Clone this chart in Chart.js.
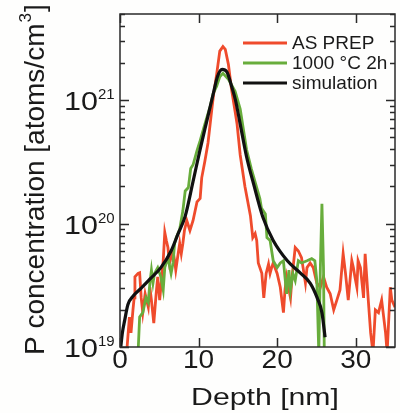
<!DOCTYPE html>
<html>
<head>
<meta charset="utf-8">
<script src="https://cdn.jsdelivr.net/npm/chart.js@4"></script>
<style>
  html, body { margin: 0; padding: 0; background: #fefefd; }
  #wrap { width: 400px; height: 413px; }
</style>
</head>
<body>
<div id="wrap"><canvas id="chart"></canvas></div>
<script>
// depth in nm, concentration in units of 1e19 atoms/cm3
const UNIT = 1e19;

const asPrepDepth = [0.85, 1.0, 1.2, 1.4, 1.65, 1.8, 1.9, 2.3, 2.5, 2.7, 2.9, 3.2, 3.6, 3.8, 4.0, 4.3, 4.6, 4.8, 5.05, 5.2,
  5.5, 5.7, 5.9, 6.1, 6.3, 6.5, 6.75, 6.95, 7.1, 7.4, 7.6, 7.8, 8.0, 8.2, 8.5, 8.9, 9.3, 9.8, 10.2, 10.4,
  10.8, 11.2, 11.7, 11.9, 12.3, 12.7, 13.1, 13.4, 13.8, 14.2, 14.65, 14.9, 15.3, 15.9, 16.6, 16.9, 17.2, 17.4, 17.6, 18.05,
  18.3, 18.6, 18.9, 19.1, 19.3, 19.5, 20.0, 20.4, 20.8, 21.0, 21.2, 21.7, 21.9, 22.3, 22.7, 23.1, 23.3, 23.6, 23.8, 24.2,
  24.6, 25.05, 25.5, 25.9, 26.3, 26.75, 27.2, 27.6, 28.0, 28.4, 28.7, 29.05, 29.5, 29.7, 29.9, 30.15, 30.3, 30.6, 31.0, 31.2,
  31.4, 31.6, 31.9, 32.2, 32.5, 32.9, 33.3, 33.8, 34.0, 34.4, 34.6, 35.0];
const asPrepConc = [0.9, 1.2, 1.75, 1.3, 2.0, 2.5, 3.7, 3.95, 4.0, 2.5, 1.9, 2.7, 2.1, 3.05, 2.4, 1.56, 2.7, 3.7, 2.4, 3.05,
  5.0, 8.5, 7.3, 6.4, 4.8, 5.3, 6.0, 5.0, 4.2, 5.7, 6.9, 5.7, 6.9, 8.8, 10.6, 8.8, 10.6, 15, 16, 23.5,
  32, 45, 86, 110, 162, 250, 272, 258, 195, 122, 81, 64, 36, 20, 11.6, 7.7, 8.3, 7.3, 4.8, 3.95,
  2.5, 3.95, 4.7, 3.95, 4.4, 4.8, 3.95, 3.05, 1.9, 2.9, 3.7, 2.5, 3.7, 6.4, 6.0, 5.3, 4.4, 3.3, 4.4, 4.8,
  4.4, 3.3, 3.05, 3.7, 3.05, 2.7, 2.0, 2.4, 2.9, 5.7, 3.95, 2.4, 5.0, 4.4, 3.7, 3.05, 5.0, 4.4, 2.5, 5.7,
  3.7, 2.4, 1.3, 0.9, 2.0, 1.9, 2.4, 1.3, 0.9, 3.05, 2.4, 2.1];

const annealDepth = [2.3, 2.5, 2.9, 3.3, 3.6, 3.8, 4.0, 4.2, 4.4, 4.8, 5.2, 5.5, 5.7, 6.1, 6.5, 6.75, 6.95, 7.15, 7.6, 8.0,
  8.3, 8.7, 9.0, 9.3, 9.8, 10.2, 10.8, 11.5, 11.85, 12.3, 12.7, 13.1, 13.8, 14.65, 15.3, 16.1, 16.7, 17.4, 17.8, 18.0,
  18.5, 18.7, 19.1, 19.5, 20.0, 20.4, 20.8, 21.2, 21.5, 21.7, 22.0, 22.3, 22.7, 23.1, 23.8, 24.4, 24.8, 25.05, 25.3, 25.5,
  25.7, 25.9, 26.0];
const annealConc = [0.9, 1.75, 1.9, 2.5, 2.3, 3.3, 4.2, 3.3, 3.95, 4.4, 3.7, 2.9, 4.4, 5.3, 3.95, 4.8, 6.9, 7.7, 9.0, 12.7,
  18.4, 19.6, 28, 30, 39, 47, 64, 90, 113, 130, 155, 165, 148, 118, 85, 40, 28, 19.6, 16, 13.4,
  12, 7.7, 7.3, 5.0, 4.4, 4.8, 5.0, 2.7, 4.2, 2.9, 3.95, 3.45, 5.0, 4.8, 5.0, 5.2, 5.0, 3.45, 0.9, 4.4,
  14.5, 4.4, 0.9];

const simDepth = [0.1, 0.3, 0.6, 1.0, 1.7, 2.7, 3.9, 5.2, 6.5, 7.4, 8.3, 9.3, 10.2, 11.1, 11.9, 12.4, 13.0, 13.6, 14.2, 14.7,
  15.3, 16.1, 17.0, 18.2, 19.5, 21.3, 22.9, 24.2, 25.1, 25.7, 26.1];
const simConc = [1.0, 1.3, 1.65, 2.2, 2.6, 3.0, 3.6, 4.4, 6.0, 8.3, 11.5, 22, 40, 70, 115, 155, 178, 170, 130, 100,
  64, 35, 21, 11.2, 7.3, 5.0, 4.0, 3.3, 2.5, 1.9, 1.2];

const seriesNames = ['AS PREP', '1000 °C 2h', 'simulation'];
const seriesColors = ['#ef4b2c', '#68ad3c', '#111111'];

const xTicks = [0, 10, 20, 30];
const yMajor = [1e19, 1e20, 1e21];
const yExp = ['19', '20', '21'];

function toPoints(xs, ys) {
  return xs.map((x, i) => ({ x: x, y: ys[i] * UNIT }));
}

const FONT = '"Liberation Sans", Arial, sans-serif';

function stretchText(ctx, text, x, y, size, align, sx) {
  ctx.save();
  ctx.font = size + 'px ' + FONT;
  const w = ctx.measureText(text).width * sx;
  let left = x;
  if (align === 'right') left = x - w;
  if (align === 'center') left = x - w / 2;
  ctx.translate(left, y);
  ctx.scale(sx, 1);
  ctx.textAlign = 'left';
  ctx.textBaseline = 'alphabetic';
  ctx.fillText(text, 0, 0);
  ctx.restore();
  return w;
}

const framePlugin = {
  id: 'frame',
  afterDraw(chart) {
    const ctx = chart.ctx;
    const a = chart.chartArea;
    const xs = chart.scales.x;
    const ys = chart.scales.y;
    ctx.save();
    ctx.strokeStyle = '#2a2a2a';
    ctx.fillStyle = '#1a1a1a';
    ctx.lineWidth = 1.5;
    ctx.strokeRect(a.left, a.top, a.right - a.left, a.bottom - a.top);

    // inward ticks, y axis (log, with minors)
    ctx.beginPath();
    for (let d = 19; d <= 21; d++) {
      for (let m = 1; m <= 9; m++) {
        const v = m * Math.pow(10, d);
        if (v > ys.max) break;
        const py = Math.round(ys.getPixelForValue(v)) + 0.5;
        const len = m === 1 ? 9 : 5;
        ctx.moveTo(a.left, py); ctx.lineTo(a.left + len, py);
        ctx.moveTo(a.right, py); ctx.lineTo(a.right - len, py);
      }
    }
    // x axis ticks
    xTicks.forEach((t) => {
      const px = Math.round(xs.getPixelForValue(t)) + 0.5;
      ctx.moveTo(px, a.bottom); ctx.lineTo(px, a.bottom - 9);
      ctx.moveTo(px, a.top); ctx.lineTo(px, a.top + 9);
    });
    ctx.stroke();

    // y tick labels 10^n
    yMajor.forEach((v, i) => {
      const py = ys.getPixelForValue(v);
      stretchText(ctx, '10', 98, py + 10, 25, 'right', 1.22);
      stretchText(ctx, yExp[i], 98, py - 1, 15, 'left', 1.0);
    });
    // x tick labels
    xTicks.forEach((t) => {
      const px = xs.getPixelForValue(t);
      stretchText(ctx, String(t), px, 368, 25, 'center', 1.12);
    });
    // x title
    stretchText(ctx, 'Depth [nm]', 265, 405, 24, 'center', 1.26);

    // y title, rotated, with superscript
    ctx.save();
    ctx.translate(44, 355);
    ctx.rotate(-Math.PI / 2);
    ctx.textAlign = 'left';
    ctx.textBaseline = 'alphabetic';
    ctx.font = '28px ' + FONT;
    const main = 'P concentration [atoms/cm';
    ctx.fillText(main, 0, 0);
    const w1 = ctx.measureText(main).width;
    ctx.font = '17px ' + FONT;
    ctx.fillText('3', w1 + 1, -13);
    const w2 = ctx.measureText('3').width;
    ctx.font = '28px ' + FONT;
    ctx.fillText(']', w1 + w2 + 2, 0);
    ctx.restore();

    // legend
    const lx = 243, ly = [43, 63, 83];
    seriesNames.forEach((name, i) => {
      ctx.strokeStyle = seriesColors[i];
      ctx.lineWidth = 2.8;
      ctx.beginPath();
      ctx.moveTo(lx, ly[i]); ctx.lineTo(lx + 44, ly[i]);
      ctx.stroke();
      ctx.fillStyle = '#1a1a1a';
      ctx.font = '19px ' + FONT;
      ctx.textAlign = 'left';
      ctx.textBaseline = 'middle';
      ctx.fillText(name, lx + 49, ly[i] + 1);
    });
    ctx.restore();
  }
};

new Chart(document.getElementById('chart'), {
  type: 'line',
  data: {
    datasets: [
      {
        label: seriesNames[0],
        data: toPoints(asPrepDepth, asPrepConc),
        borderColor: seriesColors[0],
        borderWidth: 2.8,
        pointRadius: 0,
        tension: 0,
        order: 3,
      },
      {
        label: seriesNames[1],
        data: toPoints(annealDepth, annealConc),
        borderColor: seriesColors[1],
        borderWidth: 2.8,
        pointRadius: 0,
        tension: 0,
        order: 2,
      },
      {
        label: seriesNames[2],
        data: toPoints(simDepth, simConc),
        borderColor: seriesColors[2],
        borderWidth: 3.2,
        pointRadius: 0,
        cubicInterpolationMode: 'monotone',
        order: 1,
      },
    ],
  },
  options: {
    responsive: true,
    maintainAspectRatio: false,
    animation: false,
    layout: { padding: { left: 120, right: 5, top: 14, bottom: 66 } },
    plugins: {
      legend: { display: false },
      tooltip: { enabled: false },
    },
    scales: {
      x: { type: 'linear', min: 0, max: 35, display: false },
      y: { type: 'logarithmic', min: 1e19, max: 5e21, display: false },
    },
  },
  plugins: [framePlugin],
});
</script>
</body>
</html>
